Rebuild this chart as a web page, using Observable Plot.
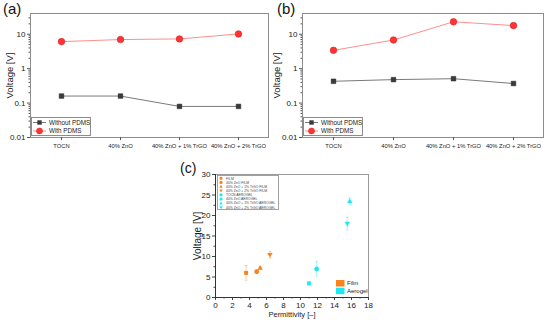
<!DOCTYPE html>
<html><head><meta charset="utf-8">
<script src="https://cdn.jsdelivr.net/npm/d3@7"></script>
<script src="https://cdn.jsdelivr.net/npm/@observablehq/plot@0.6"></script>
<style>
body{margin:0;background:#fff;font-family:"Liberation Sans",Arial,sans-serif;}
#wrap{position:relative;width:550px;height:322px;overflow:hidden;background:#fff;}
.panel{position:absolute;}
.panel svg{overflow:visible;}
.plabel{position:absolute;color:#111;line-height:1;}
</style></head>
<body><div id="wrap"></div>
<script>
// ---------- data ----------
const categories = ["TOCN", "40% ZnO", "40% ZnO + 1% TrGO", "40% ZnO + 2% TrGO"];
const seriesNames = ["Without PDMS", "With PDMS"];
const aWithout = [0.16, 0.16, 0.08, 0.08];
const aWith = [6.1, 7.0, 7.3, 10.2];
const bWithout = [0.43, 0.48, 0.51, 0.37];
const bWith = [3.4, 6.8, 23.0, 17.8];
const logTicks = [0.01, 0.1, 1, 10];

const cLabels = ["FILM", "40% ZnO FILM", "40% ZnO + 1% TrGO FILM", "40% ZnO + 2% TrGO FILM",
  "TOCN AEROGEL", "40% ZnO AEROGEL", "40% ZnO + 1% TrGO AEROGEL", "40% ZnO + 2% TrGO AEROGEL"];
const cType = ["Film", "Film", "Film", "Film", "Aerogel", "Aerogel", "Aerogel", "Aerogel"];
const cShape = ["square", "circle", "up", "down", "square", "circle", "up", "down"];
const cPermittivity = [3.6, 4.85, 5.25, 6.4, 11.0, 11.9, 15.8, 15.5];
const cVoltage = [6.0, 6.3, 7.25, 10.4, 3.45, 6.95, 23.5, 18.0];
const cError = [1.8, 0.4, 0.3, 0.8, 0.3, 1.8, 0.8, 1.5];
const typeNames = ["Film", "Aerogel"];
const xTicksC = [0, 2, 4, 6, 8, 10, 12, 14, 16, 18];
const yTicksC = [0, 5, 10, 15, 20, 25, 30];

// ---------- styles ----------
const FONT = "Liberation Sans, Arial, sans-serif";
const colorFilm = "#f7821e", colorAero = "#1ee9f2";
const wrap = document.getElementById("wrap");

const triDown = {draw(ctx, size) { const h = Math.sqrt(size) * 0.95; ctx.moveTo(0, h * 0.62); ctx.lineTo(h * 0.62, -h * 0.45); ctx.lineTo(-h * 0.62, -h * 0.45); ctx.closePath(); }};
const triUp = {draw(ctx, size) { const h = Math.sqrt(size) * 0.95; ctx.moveTo(0, -h * 0.62); ctx.lineTo(h * 0.62, h * 0.45); ctx.lineTo(-h * 0.62, h * 0.45); ctx.closePath(); }};
const hline = {draw(ctx, size) { const h = Math.sqrt(size); ctx.moveTo(-h / 2, 0); ctx.lineTo(h / 2, 0); }};

function place(node, left, top) {
  const d = document.createElement("div");
  d.className = "panel"; d.style.left = left + "px"; d.style.top = top + "px";
  d.appendChild(node); wrap.appendChild(d);
}
function text(str, left, top, size) {
  const d = document.createElement("div");
  d.className = "plabel"; d.textContent = str;
  d.style.left = left + "px"; d.style.top = top + "px"; d.style.fontSize = size + "px";
  wrap.appendChild(d);
}

function minorLog() {
  const out = [];
  for (let e = -2; e <= 1; e++) for (let k = 2; k <= 9; k++) { const v = k * Math.pow(10, e); if (v < 40) out.push(v); }
  return out;
}

function linePanel(withoutVals, withVals, marginLeft, labelOffset) {
  const without = categories.map((c, i) => ({cat: c, v: withoutVals[i]}));
  const withp = categories.map((c, i) => ({cat: c, v: withVals[i]}));
  return Plot.plot({
    width: 275, height: 160,
    marginLeft, marginRight: 7, marginTop: 13, marginBottom: 23,
    style: {fontFamily: FONT, background: "transparent", color: "#222", overflow: "visible"},
    x: {type: "point", domain: categories, padding: 0.5},
    y: {type: "log", domain: [0.01, 40]},
    marks: [
      Plot.frame({stroke: "#8c8c8c", strokeWidth: 1}),
      Plot.axisY({ticks: minorLog(), tickSize: 1.5, tickFormat: () => "", label: null, stroke: "#555"}),
      Plot.axisY({ticks: logTicks, tickSize: 3, tickPadding: 2, tickFormat: d => String(d), fontSize: 8, label: null, stroke: "#555"}),
      Plot.axisY({ticks: [], label: "Voltage [V]", labelAnchor: "center", labelOffset, labelArrow: "none", fontSize: 9.5}),
      Plot.axisX({tickSize: 3, tickPadding: 3, fontSize: 5.8, label: null, stroke: "#555"}),
      Plot.line(without, {x: "cat", y: "v", stroke: "#7a7a7a", strokeWidth: 1}),
      Plot.line(withp, {x: "cat", y: "v", stroke: "#ff8f8f", strokeWidth: 1}),
      Plot.dot(without, {x: "cat", y: "v", symbol: "square", fill: "#3a3a3a", stroke: "#222", strokeWidth: 0.5, r: 2.6}),
      Plot.dot(withp, {x: "cat", y: "v", symbol: "circle", fill: "#ff3434", stroke: "#d81010", strokeWidth: 0.5, r: 3.3})
    ]
  });
}

function lineLegend(left, top) {
  const ns = "http://www.w3.org/2000/svg";
  const svg = document.createElementNS(ns, "svg");
  svg.setAttribute("width", 60); svg.setAttribute("height", 19);
  svg.style.display = "block";
  svg.innerHTML = `
    <rect x="0.5" y="0.5" width="59" height="18" fill="#fff" stroke="#8c8c8c" stroke-width="1"/>
    <line x1="2" x2="15" y1="5.5" y2="5.5" stroke="#7a7a7a"/>
    <rect x="6.3" y="3.3" width="4.4" height="4.4" fill="#3a3a3a"/>
    <line x1="2" x2="15" y1="14" y2="14" stroke="#ff8f8f"/>
    <circle cx="8.5" cy="14" r="3" fill="#ff3434" stroke="#d81010" stroke-width="0.5"/>
    <text x="18" y="7.7" font-size="6.3" font-family="${FONT}" fill="#222">${seriesNames[0]}</text>
    <text x="18" y="16.2" font-size="6.3" font-family="${FONT}" fill="#222">${seriesNames[1]}</text>`;
  place(svg, left, top);
}

// panel (a)
place(linePanel(aWithout, aWith, 30, 24), 0, 0);
lineLegend(31, 117);
text("(a)", 3, 1, 15);

// panel (b)
place(linePanel(bWithout, bWith, 27, 29), 275, 0);
lineLegend(303, 117);
text("(b)", 277, 1, 15);

// panel (c)
const cData = cLabels.map((l, i) => ({label: l, type: cType[i], shape: cShape[i], x: cPermittivity[i], y: cVoltage[i], e: cError[i]}));
const shapeSym = {square: "square", circle: "circle", up: triUp, down: triDown};
const shapeR = {square: 2.2, circle: 2.4, up: 2.6, down: 2.6};
const colorScale = {domain: typeNames, range: [colorFilm, colorAero]};

const cPlot = Plot.plot({
  width: 260, height: 167,
  marginLeft: 75, marginRight: 32, marginTop: 19, marginBottom: 25,
  style: {fontFamily: FONT, background: "transparent", color: "#222", overflow: "visible"},
  x: {domain: [0, 18]},
  y: {domain: [0, 30]},
  color: colorScale,
  marks: [
    Plot.frame({stroke: "#9a9a9a"}),
    Plot.axisX({ticks: d3.range(1, 18, 2), tickSize: 1.5, tickFormat: () => "", label: null, stroke: "#444"}),
    Plot.axisY({ticks: d3.range(2.5, 30, 5), tickSize: 1.5, tickFormat: () => "", label: null, stroke: "#444"}),
    Plot.axisX({ticks: xTicksC, tickSize: 3, tickPadding: 2, fontSize: 8, label: null, stroke: "#444"}),
    Plot.axisX({ticks: [], label: "Permittivity [–]", labelAnchor: "center", labelOffset: 19, labelArrow: "none", fontSize: 7.5}),
    Plot.axisY({ticks: yTicksC, tickSize: 3, tickPadding: 2, fontSize: 8, label: null, stroke: "#444"}),
    Plot.axisY({ticks: [], label: "Voltage [V]", labelAnchor: "center", labelOffset: 22, labelArrow: "none", fontSize: 10}),
    Plot.ruleX([0], {stroke: "#333"}),
    Plot.ruleY([0], {stroke: "#333"}),
    Plot.ruleX(cData, {x: "x", y1: d => d.y - d.e, y2: d => d.y + d.e, stroke: "type", strokeOpacity: 0.55, strokeWidth: 0.7}),
    Plot.dot(cData, {x: "x", y: d => d.y - d.e, symbol: hline, r: 1.6, stroke: "type", strokeOpacity: 0.55, strokeWidth: 0.7, fill: "none"}),
    Plot.dot(cData, {x: "x", y: d => d.y + d.e, symbol: hline, r: 1.6, stroke: "type", strokeOpacity: 0.55, strokeWidth: 0.7, fill: "none"}),
    ...Object.keys(shapeSym).map(s => Plot.dot(cData.filter(d => d.shape === s),
      {x: "x", y: "y", symbol: shapeSym[s], r: shapeR[s], fill: "type", stroke: "none"}))
  ]
});
place(cPlot, 140, 155);
text("(c)", 180, 161, 14);

// panel (c) symbol legend
{
  const ns = "http://www.w3.org/2000/svg";
  const svg = document.createElementNS(ns, "svg");
  svg.setAttribute("width", 62); svg.setAttribute("height", 35);
  svg.style.display = "block";
  const sym = {
    square: (x, y, c) => `<rect x="${x - 1.4}" y="${y - 1.4}" width="2.8" height="2.8" fill="${c}"/>`,
    circle: (x, y, c) => `<circle cx="${x}" cy="${y}" r="1.6" fill="${c}"/>`,
    up: (x, y, c) => `<path d="M${x},${y - 1.8}L${x + 1.7},${y + 1.2}L${x - 1.7},${y + 1.2}Z" fill="${c}"/>`,
    down: (x, y, c) => `<path d="M${x},${y + 1.8}L${x + 1.7},${y - 1.2}L${x - 1.7},${y - 1.2}Z" fill="${c}"/>`
  };
  let html = `<rect x="0.5" y="0.5" width="61" height="34" fill="#fff" stroke="#8c8c8c" stroke-width="0.8"/>`;
  cLabels.forEach((l, i) => {
    const y = 3.3 + i * 4.15;
    const c = cType[i] === "Film" ? colorFilm : colorAero;
    html += sym[cShape[i]](4, y, c);
    html += `<text x="9" y="${y + 1.2}" font-size="3.4" font-family="${FONT}" fill="#444">${l}</text>`;
  });
  svg.innerHTML = html;
  place(svg, 217, 175);
}
// panel (c) type legend
{
  const ns = "http://www.w3.org/2000/svg";
  const svg = document.createElementNS(ns, "svg");
  svg.setAttribute("width", 32); svg.setAttribute("height", 18);
  svg.style.display = "block";
  let html = "";
  typeNames.forEach((t, i) => {
    const y = 1 + i * 7.7;
    html += `<rect x="0" y="${y}" width="8.5" height="6.5" fill="${i === 0 ? colorFilm : colorAero}"/>`;
    html += `<text x="11" y="${y + 5.3}" font-size="6" font-family="${FONT}" fill="#222">${t}</text>`;
  });
  svg.innerHTML = html;
  place(svg, 336, 279);
}
</script>
</body></html>
